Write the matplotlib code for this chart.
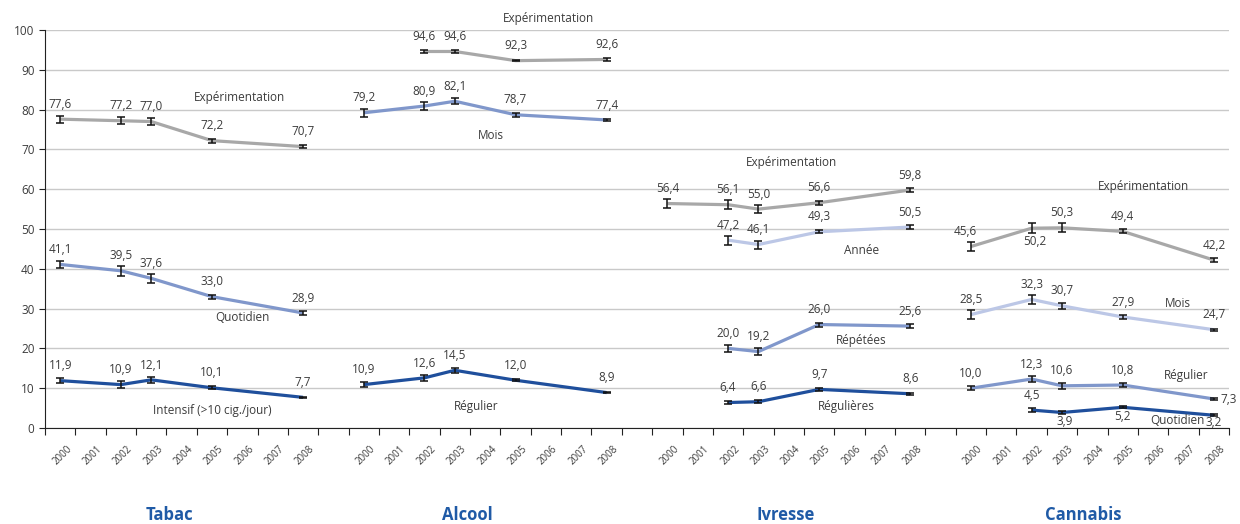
import matplotlib.pyplot as plt
from matplotlib.transforms import blended_transform_factory

plt.rcParams['font.family'] = ['Open Sans', 'DejaVu Sans']

years = list(range(2000, 2009))
groups = ['Tabac', 'Alcool', 'Ivresse', 'Cannabis']

GRAY = '#a8a8a8'
MID = '#8097cb'
LIGHT = '#bcc7e6'
DARK = '#1f4f9c'
TXT = '#3c3c3c'

# Tabac
tab_years = [2000, 2002, 2003, 2005, 2008]
tab_exp = [77.6, 77.2, 77.0, 72.2, 70.7]
tab_exp_err = [0.9, 0.9, 0.9, 0.5, 0.4]
tab_quot = [41.1, 39.5, 37.6, 33.0, 28.9]
tab_quot_err = [0.9, 1.2, 1.2, 0.5, 0.4]
tab_int = [11.9, 10.9, 12.1, 10.1, 7.7]
tab_int_err = [0.6, 0.8, 0.8, 0.4, 0.2]

# Alcool
alc_years = [2000, 2002, 2003, 2005, 2008]
alc_exp_years = [2002, 2003, 2005, 2008]
alc_exp = [94.6, 94.6, 92.3, 92.6]
alc_exp_err = [0.3, 0.3, 0.2, 0.3]
alc_mois = [79.2, 80.9, 82.1, 78.7, 77.4]
alc_mois_err = [1.0, 1.0, 0.8, 0.5, 0.3]
alc_reg = [10.9, 12.6, 14.5, 12.0, 8.9]
alc_reg_err = [0.7, 0.7, 0.7, 0.3, 0.2]

# Ivresse
ivr_exp_years = [2000, 2002, 2003, 2005, 2008]
ivr_exp = [56.4, 56.1, 55.0, 56.6, 59.8]
ivr_exp_err = [1.1, 1.1, 1.0, 0.5, 0.5]
ivr_years = [2002, 2003, 2005, 2008]
ivr_annee = [47.2, 46.1, 49.3, 50.5]
ivr_annee_err = [1.1, 1.0, 0.4, 0.5]
ivr_rep = [20.0, 19.2, 26.0, 25.6]
ivr_rep_err = [0.9, 0.9, 0.5, 0.5]
ivr_regu = [6.4, 6.6, 9.7, 8.6]
ivr_regu_err = [0.4, 0.4, 0.3, 0.2]

# Cannabis
can_years = [2000, 2002, 2003, 2005, 2008]
can_exp = [45.6, 50.2, 50.3, 49.4, 42.2]
can_exp_err = [1.1, 1.2, 1.1, 0.5, 0.5]
can_mois = [28.5, 32.3, 30.7, 27.9, 24.7]
can_mois_err = [1.1, 1.1, 0.7, 0.5, 0.3]
can_reg = [10.0, 12.3, 10.6, 10.8, 7.3]
can_reg_err = [0.5, 0.7, 0.8, 0.5, 0.3]
can_quot_years = [2002, 2003, 2005, 2008]
can_quot = [4.5, 3.9, 5.2, 3.2]
can_quot_err = [0.4, 0.3, 0.3, 0.2]

# (group, years, values, errors, color, name, name x slot, name y)
series = [
    (0, tab_years, tab_exp, tab_exp_err, GRAY, 'Expérimentation', 5.9, 83.0),
    (0, tab_years, tab_quot, tab_quot_err, MID, 'Quotidien', 6.0, 27.8),
    (0, tab_years, tab_int, tab_int_err, DARK, 'Intensif (>10 cig./jour)', 5.0, 4.5),
    (1, alc_exp_years, alc_exp, alc_exp_err, GRAY, 'Expérimentation', 16.1, 103.0),
    (1, alc_years, alc_mois, alc_mois_err, MID, 'Mois', 14.2, 73.6),
    (1, alc_years, alc_reg, alc_reg_err, DARK, 'Régulier', 13.7, 5.3),
    (2, ivr_exp_years, ivr_exp, ivr_exp_err, GRAY, 'Expérimentation', 24.1, 66.8),
    (2, ivr_years, ivr_annee, ivr_annee_err, LIGHT, 'Année', 26.4, 44.7),
    (2, ivr_years, ivr_rep, ivr_rep_err, MID, 'Répétées', 26.4, 22.1),
    (2, ivr_years, ivr_regu, ivr_regu_err, DARK, 'Régulières', 25.9, 5.5),
    (3, can_years, can_exp, can_exp_err, GRAY, 'Expérimentation', 35.7, 60.6),
    (3, can_years, can_mois, can_mois_err, LIGHT, 'Mois', 36.8, 31.2),
    (3, can_years, can_reg, can_reg_err, MID, 'Régulier', 37.1, 13.1),
    (3, can_quot_years, can_quot, can_quot_err, DARK, 'Quotidien', 36.8, 1.8),
]

# value labels that do not sit above their point: (group, year, value) -> offset in points
label_offsets = {
    (3, 2002, 50.2): (2, -14),
    (3, 2003, 3.9): (2, -11),
    (3, 2005, 5.2): (0, -11),
    (3, 2008, 3.2): (0, -10),
    (3, 2008, 7.3): (11, -5),
    (3, 2000, 45.6): (-4, 6),
}


def slot(g, y):
    return g * 10 + (y - 2000)


def fmt(v):
    return ('%.1f' % v).replace('.', ',')


fig = plt.figure(figsize=(12.4, 5.24), dpi=100)
ax = fig.add_axes([45 / 1240, 1 - 428 / 524, (1229 - 45) / 1240, (428 - 30) / 524])

for g, ys, vals, errs, col, name, nx, ny in series:
    xs = [slot(g, y) for y in ys]
    ax.plot(xs, vals, color=col, lw=2.3, solid_capstyle='butt', zorder=3)
    ax.errorbar(xs, vals, yerr=errs, fmt='none', ecolor='#111111',
                elinewidth=1.1, capsize=3, capthick=1.1, zorder=4)
    for x, y, v in zip(xs, ys, vals):
        off = label_offsets.get((g, y, v), (0, 6))
        ax.annotate(fmt(v), (x, v), xytext=off, textcoords='offset points',
                    ha='center', va='bottom', fontsize=8.5, color=TXT,
                    annotation_clip=False, zorder=5)
    ax.text(nx, ny, name, ha='center', va='center', fontsize=8.5,
            color=TXT, clip_on=False, zorder=5)

ax.set_ylim(0, 100)
ax.set_xlim(-0.5, 38.5)
ax.set_yticks(range(0, 101, 10))
ax.yaxis.grid(True, color='#c9c9c9', lw=1)
ax.set_axisbelow(True)
for s in ['top', 'right']:
    ax.spines[s].set_visible(False)
ax.spines['left'].set_color('#222222')
ax.spines['bottom'].set_color('#222222')
ax.tick_params(axis='y', labelsize=8.5, labelcolor=TXT, length=4, color='#222222')

# boundaries as ticks, year labels centred in each slot
ax.set_xticks([k - 0.5 for k in range(40)])
ax.set_xticklabels([])
ax.tick_params(axis='x', length=5, color='#222222')
trans = blended_transform_factory(ax.transData, ax.transAxes)
for g in range(len(groups)):
    for y in years:
        ax.text(slot(g, y) + 0.2, -0.04, str(y), transform=trans, rotation=45,
                ha='right', va='top', rotation_mode='anchor', fontsize=7,
                color=TXT)

title_pos = [3.6, 13.4, 23.9, 33.7]
ftrans = blended_transform_factory(ax.transData, fig.transFigure)
for name, px in zip(groups, title_pos):
    ax.text(px, 1 - 515 / 524, name, transform=ftrans, ha='center', va='center',
            fontsize=12, fontweight='bold', color='#1f5aa6')

fig.savefig('out.png', dpi=100)
